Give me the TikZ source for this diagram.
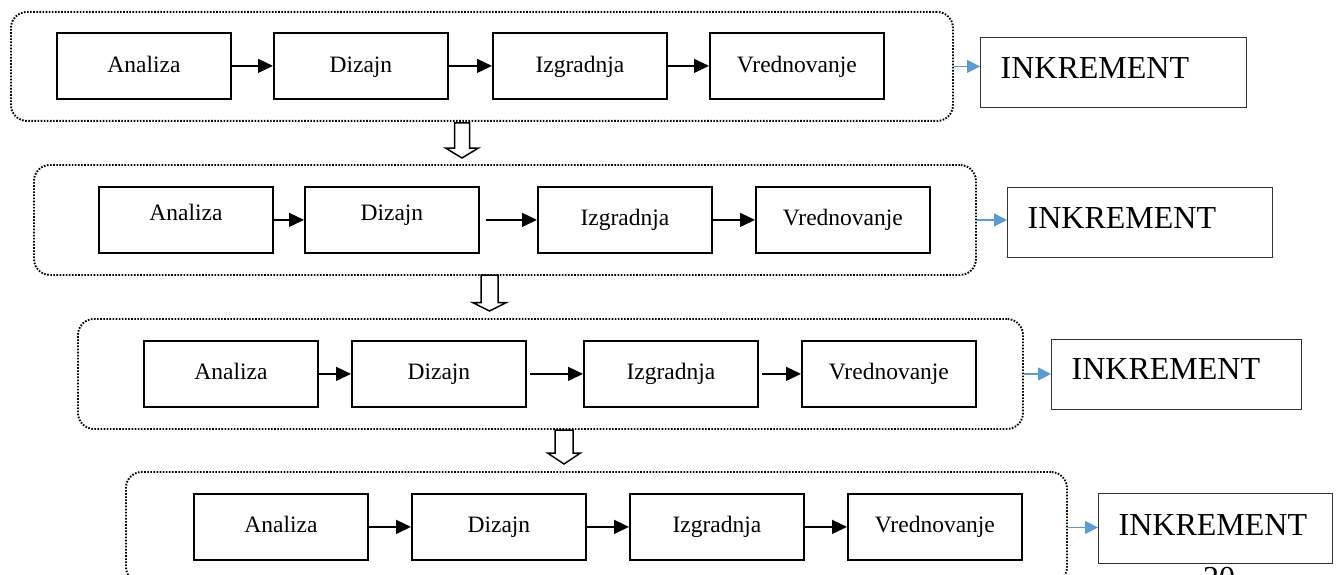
\documentclass[tikz,border=0pt]{standalone}
\usepackage{fontspec}
\setmainfont{Liberation Serif}
\usetikzlibrary{arrows.meta,calc}
\begin{document}
\begin{tikzpicture}[x=1pt,y=-1pt,
  % phase boxes; the argument moves the baseline below the box centre
  stepbox/.style={draw=black, line width=1.8pt, minimum width=174pt,
    minimum height=66pt, inner sep=0pt, anchor=north west,
    font=\fontsize{23.5}{28}\selectfont,
    text height={11pt+#1}, text depth={11pt-#1}},
  stepbox/.default=6pt,
  % dotted frame around one iteration
  frame/.style={draw=black, line width=1.9pt, dash pattern=on 1.6pt off 1.5pt,
    rounded corners=16pt, anchor=north west, inner sep=0pt},
  % result box
  inkbox/.style={draw=black!80, line width=1.4pt, anchor=north west,
    inner xsep=20pt, inner ysep=0pt, minimum height=70pt, align=left,
    font=\fontsize{32}{38}\selectfont,
    text height={11pt+#1}, text depth={11pt-#1}},
  flow/.style={draw=black, line width=1.4pt,
    -{Triangle[length=15pt,width=14pt]}},
  toinc/.style={color={rgb,255:red,91;green,155;blue,213},
    line width=1.3pt, -{Triangle[length=13pt,width=13pt]}},
  hollow/.style={draw=black, line width=1.5pt, fill=white, line join=miter}
]
\useasboundingbox (0,0) rectangle (1338,575);
\clip (0,0) rectangle (1338,575);

% ---------- iteration 1 ----------
\node[frame, minimum width=942pt, minimum height=109pt] (c1) at (10,11) {};
\node[stepbox=6.8pt] (a1) at (56,32) {Analiza};
\node[stepbox=6.8pt] (d1) at (273,32) {Dizajn};
\node[stepbox=6.8pt] (i1) at (492,32) {Izgradnja};
\node[stepbox=6.8pt] (v1) at (709,32) {Vrednovanje};
\draw[flow] (a1) -- (d1);
\draw[flow] (d1) -- (i1);
\draw[flow] (i1) -- (v1);
\node[inkbox=6pt, text width=226pt] (k1) at (980,37) {INKREMENT};
\draw[toinc] (c1.east) -- (c1.east -| k1.west);

% ---------- iteration 2 ----------
\node[frame, minimum width=942pt, minimum height=110pt] (c2) at (33,164) {};
\node[stepbox=0.5pt] (a2) at (98,186) {Analiza};
\node[stepbox=0.5pt] (d2) at (304,186) {Dizajn};
\node[stepbox=5.3pt] (i2) at (537,186) {Izgradnja};
\node[stepbox=5.3pt] (v2) at (755,186) {Vrednovanje};
\draw[flow] (a2) -- (d2);
\draw[flow, shorten <=6pt] (d2) -- (i2);
\draw[flow] (i2) -- (v2);
\node[inkbox=5.3pt, text width=225pt] (k2) at (1007,187) {INKREMENT};
\draw[toinc] (c2.east) -- (c2.east -| k2.west);

% ---------- iteration 3 ----------
\node[frame, minimum width=945pt, minimum height=110pt] (c3) at (77,318) {};
\node[stepbox=6pt] (a3) at (143,340) {Analiza};
\node[stepbox=6pt] (d3) at (351,340) {Dizajn};
\node[stepbox=6pt] (i3) at (583,340) {Izgradnja};
\node[stepbox=6pt] (v3) at (801,340) {Vrednovanje};
\draw[flow] (a3) -- (d3);
\draw[flow, shorten <=3pt] (d3) -- (i3);
\draw[flow, shorten <=3pt] (i3) -- (v3);
\node[inkbox=5pt, text width=210pt] (k3) at (1051,339) {INKREMENT};
\draw[toinc] (c3.east) -- (c3.east -| k3.west);

% ---------- iteration 4 ----------
\node[frame, minimum width=941pt, minimum height=111pt] (c4) at (125,471) {};
\node[stepbox=5.7pt] (a4) at (193,493) {Analiza};
\node[stepbox=5.7pt] (d4) at (411,493) {Dizajn};
\node[stepbox=5.7pt] (i4) at (629,493) {Izgradnja};
\node[stepbox=5.7pt] (v4) at (847,493) {Vrednovanje};
\draw[flow] (a4) -- (d4);
\draw[flow] (d4) -- (i4);
\draw[flow] (i4) -- (v4);
\node[inkbox=6.6pt, text width=194pt] (k4) at (1098,493) {INKREMENT};
\draw[toinc] (c4.east) -- (c4.east -| k4.west);

% ---------- block arrows between iterations ----------
\coordinate (h1) at (462,123);
\coordinate (h2) at (489.5,275);
\coordinate (h3) at (564,430);
\draw[hollow] (h1) ++(-7.5,0) -- ++(0,25) -- ++(-9,0) -- ++(16.5,10)
  -- ++(16.5,-10) -- ++(-9,0) -- ++(0,-25) -- cycle;
\draw[hollow] (h2) ++(-8.5,0) -- ++(0,27.7) -- ++(-8,0) -- ++(16.5,8.3)
  -- ++(16.5,-8.3) -- ++(-8,0) -- ++(0,-27.7) -- cycle;
\draw[hollow] (h3) ++(-9,0) -- ++(0,23) -- ++(-7.5,0) -- ++(16.5,11)
  -- ++(16.5,-11) -- ++(-7.5,0) -- ++(0,-23) -- cycle;

% page number, running off the lower edge
\node[font=\fontsize{32}{38}\selectfont, anchor=base, inner sep=0pt] (pg) at (1219,588) {20};
\end{tikzpicture}
\end{document}
